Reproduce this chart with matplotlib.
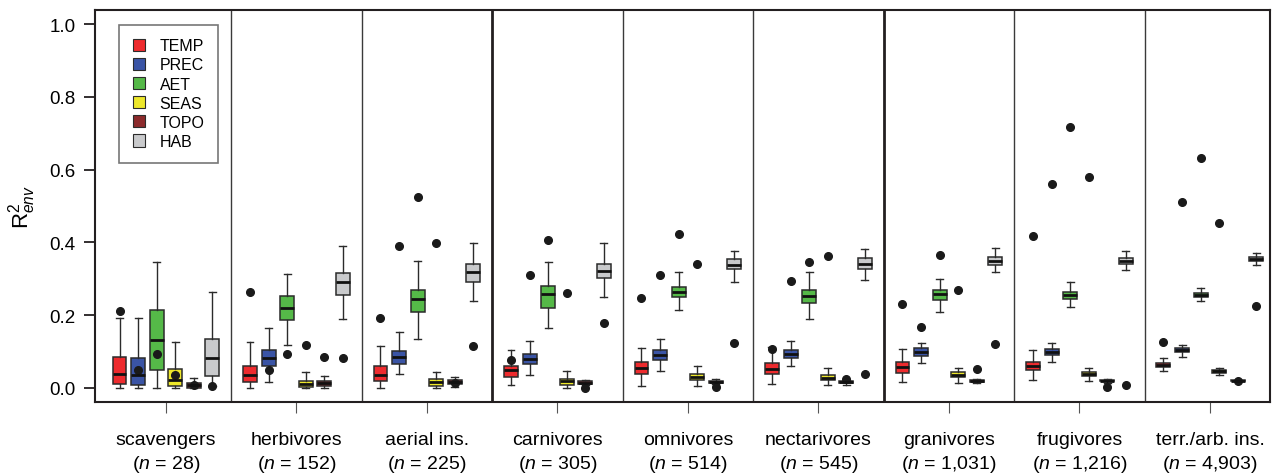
import matplotlib
matplotlib.use("Agg")
import matplotlib.pyplot as plt
from matplotlib.patches import Patch

plt.rcParams['font.family'] = ['Liberation Sans', 'DejaVu Sans']
plt.rcParams['mathtext.fontset'] = 'custom'
plt.rcParams['mathtext.rm'] = 'Liberation Sans'
plt.rcParams['mathtext.it'] = 'Liberation Sans:italic'

# Guild names and sample sizes
guilds = ['scavengers', 'herbivores', 'aerial ins.', 'carnivores', 'omnivores',
          'nectarivores', 'granivores', 'frugivores', 'terr./arb. ins.']
n_sizes = ['28', '152', '225', '305', '514', '545', '1,031', '1,216', '4,903']

variables = ['TEMP', 'PREC', 'AET', 'SEAS', 'TOPO', 'HAB']
colors = ['#EE2B2E', '#3A54A5', '#55B948', '#EDE72A', '#8C2A2C', '#C9CACC']

# rows per guild: whisker low, q1, median, q3, whisker high, outlier
TEMP = [[0.000, 0.010, 0.039, 0.086, 0.191, 0.212],
        [0.000, 0.016, 0.036, 0.060, 0.127, 0.265],
        [0.000, 0.020, 0.036, 0.060, 0.114, 0.193],
        [0.008, 0.031, 0.049, 0.061, 0.103, 0.077],
        [0.006, 0.039, 0.056, 0.072, 0.111, 0.248],
        [0.010, 0.039, 0.051, 0.068, 0.113, 0.107],
        [0.016, 0.042, 0.057, 0.071, 0.107, 0.230],
        [0.023, 0.049, 0.060, 0.072, 0.105, 0.417],
        [0.046, 0.057, 0.062, 0.068, 0.082, 0.125]]

PREC = [[0.000, 0.008, 0.036, 0.082, 0.193, 0.050],
        [0.016, 0.061, 0.082, 0.103, 0.164, 0.050],
        [0.038, 0.065, 0.086, 0.102, 0.153, 0.390],
        [0.035, 0.067, 0.080, 0.094, 0.129, 0.311],
        [0.048, 0.078, 0.091, 0.103, 0.135, 0.310],
        [0.060, 0.083, 0.093, 0.103, 0.129, 0.294],
        [0.069, 0.089, 0.100, 0.109, 0.123, 0.167],
        [0.071, 0.092, 0.099, 0.106, 0.123, 0.560],
        [0.085, 0.098, 0.103, 0.109, 0.118, 0.510]]

AET = [[0.000, 0.049, 0.133, 0.213, 0.345, 0.094],
       [0.118, 0.187, 0.219, 0.253, 0.313, 0.094],
       [0.135, 0.210, 0.245, 0.270, 0.348, 0.525],
       [0.164, 0.221, 0.259, 0.279, 0.347, 0.406],
       [0.214, 0.249, 0.263, 0.277, 0.318, 0.423],
       [0.190, 0.234, 0.254, 0.269, 0.318, 0.345],
       [0.210, 0.241, 0.257, 0.269, 0.299, 0.365],
       [0.222, 0.245, 0.255, 0.265, 0.290, 0.717],
       [0.238, 0.250, 0.256, 0.262, 0.274, 0.631]]

SEAS = [[0.000, 0.005, 0.022, 0.052, 0.125, 0.036],
        [0.000, 0.003, 0.010, 0.018, 0.043, 0.118],
        [0.001, 0.006, 0.016, 0.025, 0.045, 0.398],
        [0.001, 0.009, 0.018, 0.025, 0.048, 0.261],
        [0.006, 0.021, 0.030, 0.038, 0.060, 0.342],
        [0.008, 0.021, 0.027, 0.035, 0.056, 0.364],
        [0.014, 0.030, 0.037, 0.043, 0.056, 0.270],
        [0.018, 0.032, 0.038, 0.043, 0.054, 0.580],
        [0.035, 0.040, 0.046, 0.050, 0.055, 0.453]]

TOPO = [[0.000, 0.001, 0.007, 0.014, 0.028, 0.007],
        [0.001, 0.005, 0.013, 0.018, 0.032, 0.085],
        [0.004, 0.010, 0.016, 0.022, 0.030, 0.015],
        [0.008, 0.011, 0.015, 0.018, 0.022, 0.001],
        [0.011, 0.013, 0.017, 0.020, 0.024, 0.003],
        [0.008, 0.013, 0.017, 0.020, 0.022, 0.025],
        [0.014, 0.016, 0.020, 0.022, 0.026, 0.052],
        [0.014, 0.018, 0.020, 0.022, 0.024, 0.002],
        [0.018, 0.019, 0.020, 0.021, 0.022, 0.020]]

HAB = [[0.005, 0.032, 0.082, 0.135, 0.263, 0.005],
       [0.190, 0.256, 0.292, 0.316, 0.389, 0.082],
       [0.238, 0.290, 0.318, 0.340, 0.398, 0.116],
       [0.249, 0.301, 0.321, 0.342, 0.397, 0.178],
       [0.291, 0.326, 0.339, 0.354, 0.375, 0.124],
       [0.297, 0.326, 0.341, 0.357, 0.382, 0.038],
       [0.318, 0.339, 0.348, 0.359, 0.384, 0.120],
       [0.325, 0.341, 0.349, 0.356, 0.375, 0.007],
       [0.338, 0.350, 0.355, 0.360, 0.371, 0.226]]

all_data = [TEMP, PREC, AET, SEAS, TOPO, HAB]

fig = plt.figure(figsize=(12.74, 4.77), dpi=100)
ax = fig.add_axes([95 / 1274, 74 / 477, 1175 / 1274, 392 / 477])

spacing = 0.1425
box_w = 0.107

# group separators (thicker ones split the three panels)
for sep in [1.5, 2.5, 3.5, 4.5, 5.5, 6.5, 7.5, 8.5]:
    if sep in (3.5, 6.5):
        ax.axvline(sep, color='#231F20', lw=2.0, zorder=1)
    else:
        ax.axvline(sep, color='#3a3a3a', lw=1.0, zorder=1)

for k, (var_rows, col) in enumerate(zip(all_data, colors)):
    stats = []
    positions = []
    for g, row in enumerate(var_rows):
        lo, q1, med, q3, hi, out = row
        stats.append({'whislo': lo, 'q1': q1, 'med': med, 'q3': q3,
                      'whishi': hi, 'fliers': [out]})
        positions.append(g + 1 + (k - 2.5) * spacing)
    ax.bxp(stats, positions=positions, widths=box_w, capwidths=box_w * 0.5,
           patch_artist=True, manage_ticks=False,
           boxprops=dict(facecolor=col, edgecolor='#2b2b2b', linewidth=1.1),
           medianprops=dict(color='#111111', linewidth=2.0),
           whiskerprops=dict(color='#2b2b2b', linewidth=1.0),
           capprops=dict(color='#2b2b2b', linewidth=1.0),
           flierprops=dict(marker='o', markerfacecolor='#1a1a1a',
                           markeredgecolor='#1a1a1a', markersize=5.5),
           zorder=3)

ax.set_xlim(0.456, 9.46)
ax.set_ylim(-0.0385, 1.0385)

ax.set_yticks([0.0, 0.2, 0.4, 0.6, 0.8, 1.0])
ax.set_yticklabels(['0.0', '0.2', '0.4', '0.6', '0.8', '1.0'])
xlabels = [name + '\n' + r'($\it{n}$ = ' + n + ')' for name, n in zip(guilds, n_sizes)]
ax.set_xticks(range(1, 10))
ax.set_xticklabels(xlabels, linespacing=1.3)

ax.tick_params(axis='y', length=8, width=1.3, labelsize=13.5, pad=6, color='#231F20')
ax.tick_params(axis='x', length=8, width=0.8, labelsize=14, pad=13, color='#555555')

for s in ax.spines.values():
    s.set_linewidth(1.5)
    s.set_color('#231F20')

ax.set_ylabel(r'R$^2_{env}$', fontsize=16, labelpad=8)

handles = [Patch(facecolor=c, edgecolor='#2b2b2b', linewidth=0.8) for c in colors]
leg = ax.legend(handles, variables, loc='upper left', bbox_to_anchor=(0.0204, 0.9625),
                borderaxespad=0, fontsize=11.5, frameon=True, fancybox=False,
                handlelength=0.8, handleheight=0.8, handletextpad=0.9,
                labelspacing=0.26, borderpad=0.85)
leg.get_frame().set_edgecolor('#555555')
leg.get_frame().set_linewidth(1.2)
leg.set_zorder(5)

fig.savefig('out.png', dpi=100)
